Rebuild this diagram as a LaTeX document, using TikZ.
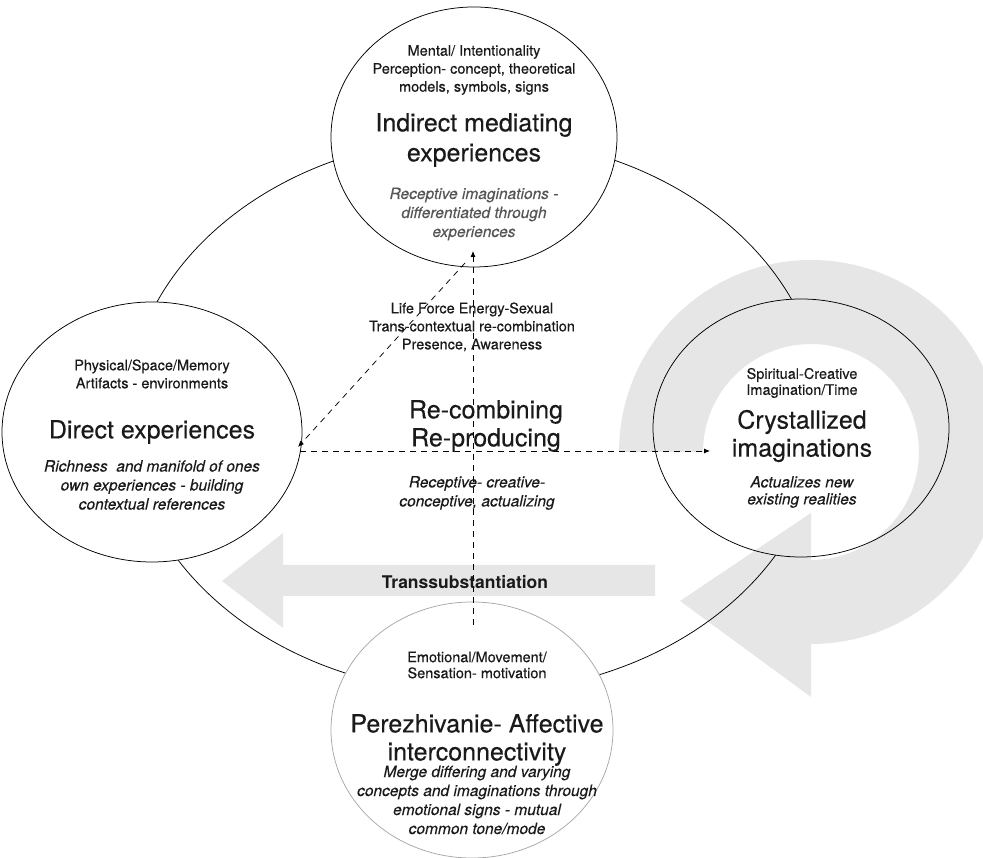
\documentclass[tikz,border=0pt]{standalone}
\usepackage{fontspec}
\setmainfont{TeX Gyre Heros}
\newfontfamily\heavysans{TeX Gyre Heros}[FakeBold=0.3]
\newfontfamily\heavyslant{TeX Gyre Heros Italic}[FakeBold=0.2]
\usetikzlibrary{arrows.meta,shapes.geometric}
\definecolor{arrowgray}{HTML}{E6E6E6}
\definecolor{notegray}{HTML}{555555}
\definecolor{inkblack}{HTML}{1A1A1A}
\definecolor{softrim}{HTML}{A8A8A8}
\begin{document}
\begin{tikzpicture}[x=1pt,y=1pt,
  bubble/.style={ellipse, draw=black, line width=0.75pt, fill=white, inner sep=0pt},
  flow/.style={dash pattern=on 6pt off 5pt, line width=0.75pt, -{Latex[length=6pt,width=5pt]}},
  smalltext/.style={font=\heavysans\fontsize{14.5}{18}\selectfont, align=center, text=inkblack, inner sep=0pt},
  bigtext/.style={font=\heavysans\fontsize{25}{30}\selectfont, align=center, text=inkblack, inner sep=0pt},
  notetext/.style={font=\heavyslant\fontsize{15.5}{19}\selectfont, align=center, text=inkblack, inner sep=0pt},
]
\useasboundingbox (0,0) rectangle (983,858);

% outer cycle
\draw[line width=0.75pt] (475,443) ellipse [x radius=348pt, y radius=278pt];

% the four experience bubbles
\node[bubble, minimum width=286pt, minimum height=260pt] (top) at (474,721) {};
\node[bubble, minimum width=300pt, minimum height=260pt] (left) at (152,426) {};
\node[bubble, minimum width=296pt, minimum height=258pt] (right) at (801,430) {};
\node[bubble, draw=softrim, minimum width=282pt, minimum height=256pt] (bottom) at (472,128) {};

% dashed flows
\coordinate (vstart) at (473,233);
\coordinate (vend) at (473,607);
\coordinate (hstart) at (300,407);
\coordinate (hend) at (710,407);
\coordinate (dstart) at (465,595);
\coordinate (dend) at (298,411);
\draw[flow] (vstart) -- (vend);
\draw[flow] (hstart) -- (hend);
\draw[flow] (dstart) -- (dend);

% broad grey arrows
\begin{scope}[blend mode=multiply]
  \fill[arrowgray] (703,406) -- (619,406) arc[start angle=180, end angle=-90, radius=192pt]
    -- (811,161) -- (680,257) -- (811,345) -- (811,298)
    arc[start angle=-90, end angle=180, radius=108pt] -- cycle;
  \fill[arrowgray] (655,293) -- (283,293) -- (283,325) -- (222,277) -- (283,230)
    -- (283,262) -- (655,262) -- cycle;
\end{scope}

% top bubble
\node[smalltext] (topkind) at (474,788) {Mental/ Intentionality\\Perception- concept, theoretical\\models, symbols, signs};
\node[bigtext] (toptitle) at (474,718) {Indirect mediating\\experiences};
\node[notetext, text=notegray] (topnote) at (474,644) {Receptive imaginations -\\differentiated through\\experiences};

% left bubble
\node[smalltext] (leftkind) at (152,484) {Physical/Space/Memory\\Artifacts - environments};
\node[bigtext] (lefttitle) at (152,426) {Direct experiences};
\node[notetext] (leftnote) at (152,373) {Richness\ \ and manifold of ones\\own experiences - building\\contextual references};

% right bubble
\node[smalltext, font=\heavysans\fontsize{14.5}{16}\selectfont] (rightkind) at (802,475) {Spiritual-Creative\\Imagination/Time};
\node[bigtext, font=\heavysans\fontsize{25}{28}\selectfont] (righttitle) at (802,422) {Crystallized\\imaginations};
\node[notetext, font=\heavyslant\fontsize{15.5}{17}\selectfont] (rightnote) at (802,366) {Actualizes new\\existing realities};

% bottom bubble
\node[smalltext, font=\heavysans\fontsize{14.5}{16}\selectfont] (bottomkind) at (477,193) {Emotional/Movement/\\Sensation- motivation};
\node[bigtext, font=\heavysans\fontsize{25}{28}\selectfont] (bottomtitle) at (477,118) {Perezhivanie- Affective\\interconnectivity};
\node[notetext] (bottomnote) at (477,58) {Merge differing and varying\\concepts and imaginations through\\emotional signs - mutual\\common tone/mode};

% centre
\node[smalltext] (centrekind) at (472,531) {Life Force Energy-Sexual\\Trans-contextual re-combination\\Presence, Awareness};
\node[bigtext, font=\heavysans\fontsize{25}{28}\selectfont] (centretitle) at (486,432) {Re-combining\\Re-producing};
\node[notetext] (centrenote) at (477,365) {Receptive- creative-\\conceptive, actualizing};

% label on the leftward arrow
\node[font=\fontsize{17.5}{20}\selectfont\bfseries, text=inkblack, inner sep=0pt] (transsub) at (465,276) {Transsubstantiation};
\end{tikzpicture}
\end{document}
